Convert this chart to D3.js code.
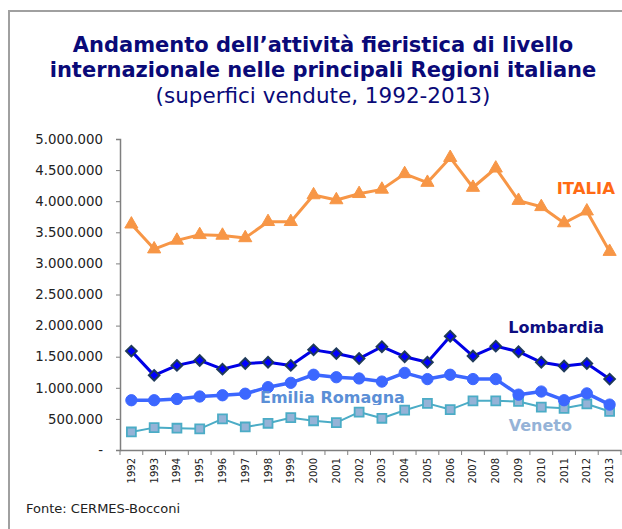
<!DOCTYPE html>
<html>
<head>
<meta charset="utf-8">
<script src="https://cdn.jsdelivr.net/npm/d3@7"></script>
<style>
    body { margin: 0; background: #fff; }
    svg { display: block; font-family: "DejaVu Sans", Verdana, sans-serif; }
</style>
</head>
<body>
<svg id="mainFrame"></svg>
<script>
// Data
const years = ['1992', '1993', '1994', '1995', '1996', '1997', '1998', '1999', '2000', '2001', '2002',
    '2003', '2004', '2005', '2006', '2007', '2008', '2009', '2010', '2011', '2012', '2013'];

const italia = [3630000, 3230000, 3370000, 3460000, 3450000, 3410000, 3670000, 3670000, 4100000, 4020000, 4120000,
    4190000, 4440000, 4300000, 4700000, 4220000, 4530000, 4010000, 3910000, 3650000, 3840000, 3190000];

const lombardia = [1590000, 1200000, 1360000, 1440000, 1300000, 1390000, 1410000, 1360000, 1610000, 1550000, 1470000,
    1660000, 1500000, 1410000, 1830000, 1510000, 1670000, 1580000, 1410000, 1350000, 1390000, 1140000];

const emilia = [800000, 800000, 820000, 860000, 880000, 905000, 1010000, 1080000, 1210000, 1170000, 1150000,
    1100000, 1240000, 1140000, 1210000, 1140000, 1140000, 890000, 940000, 800000, 910000, 730000];

const veneto = [290000, 360000, 350000, 340000, 500000, 370000, 430000, 520000, 470000, 440000, 610000,
    510000, 640000, 750000, 650000, 790000, 790000, 780000, 690000, 670000, 740000, 620000];

const yTicks = [0, 500000, 1000000, 1500000, 2000000, 2500000, 3000000, 3500000, 4000000, 4500000, 5000000];

const titleLines = ['Andamento dell\u2019attività fieristica di livello',
    'internazionale nelle principali Regioni italiane'];
const subtitle = '(superfici vendute, 1992-2013)';
const source = 'Fonte: CERMES-Bocconi';

const width = 622, height = 529;

const svg = d3.select('#mainFrame')
    .attr('width', width)
    .attr('height', height);

// Plot area in page coordinates
const plot = {left: 120, right: 621, top: 139, bottom: 450};

// Grey frame around the chart, open at right and bottom (runs off the picture)
svg.append('rect')
    .attr('x', 9).attr('y', 11)
    .attr('width', 640).attr('height', 540)
    .attr('fill', 'none')
    .attr('stroke', '#a0a0a0')
    .attr('stroke-width', 2);

// Titles
const titleGroup = svg.append('g').attr('text-anchor', 'middle').attr('fill', '#0a0a78');
titleGroup.selectAll('text.title').data(titleLines)
    .join('text')
    .attr('class', 'title')
    .attr('x', 323)
    .attr('y', (d, i) => 52 + i * 25)
    .attr('font-size', 21)
    .attr('font-weight', 'bold')
    .text(d => d);

titleGroup.append('text')
    .attr('x', 323)
    .attr('y', 103)
    .attr('font-size', 21.5)
    .text(subtitle);

/**
 * Scales
 */
const x = d3.scaleBand()
    .domain(years)
    .range([plot.left, plot.right])
    .padding(0);

const xc = d => x(d) + x.bandwidth() / 2;

const y = d3.scaleLinear()
    .domain([0, 5000000])
    .range([plot.bottom, plot.top]);

const fmt = d => d === 0 ? '-' : d3.format(',')(d).replace(/,/g, '.');

/**
 * Axes
 */
const yAxis = svg.append('g')
    .attr('transform', `translate(${plot.left},0)`)
    .call(d3.axisLeft(y).tickValues(yTicks).tickFormat(fmt).tickSize(4).tickPadding(13));
yAxis.select('.domain').attr('stroke', '#7f7f7f').attr('stroke-width', 1.5);
yAxis.selectAll('.tick line').attr('stroke', '#7f7f7f');
yAxis.selectAll('.tick text')
    .attr('font-family', '"DejaVu Sans", Verdana, sans-serif')
    .attr('font-size', 13.3)
    .attr('fill', '#222');

const xAxis = svg.append('g')
    .attr('transform', `translate(0,${plot.bottom})`)
    .call(d3.axisBottom(x).tickSize(0).tickPadding(0));
xAxis.select('.domain').attr('stroke', '#7f7f7f').attr('stroke-width', 1.5);
xAxis.selectAll('.tick text')
    .attr('font-family', '"DejaVu Sans", Verdana, sans-serif')
    .attr('font-size', 10)
    .attr('fill', '#222')
    .attr('text-anchor', 'end')
    .attr('transform', 'rotate(-90)')
    .attr('x', -8)
    .attr('y', 0)
    .attr('dy', '0.35em');

// tick marks sit on the band boundaries
const edges = years.map(d => x(d)).concat([x.range()[1]]);
xAxis.selectAll('line.edge').data(edges)
    .join('line')
    .attr('class', 'edge')
    .attr('x1', d => d).attr('x2', d => d)
    .attr('y1', 0).attr('y2', 5)
    .attr('stroke', '#7f7f7f');

/**
 * Series
 */
const series = [
    {name: 'Veneto', values: veneto, line: '#4bacc6', width: 2, symbol: d3.symbolSquare, size: 80, rot: 0, fill: '#95b3d7', stroke: '#4bacc6', sw: 1.8},
    {name: 'Emilia Romagna', values: emilia, line: '#3c67ff', width: 3.5, symbol: d3.symbolCircle, size: 100, rot: 0, fill: '#3c67ff', stroke: '#3c67ff', sw: 1},
    {name: 'Lombardia', values: lombardia, line: '#0000e6', width: 3, symbol: d3.symbolSquare, size: 56, rot: 45, fill: '#0000ff', stroke: '#1f3a5a', sw: 2},
    {name: 'ITALIA', values: italia, line: '#f79646', width: 3, symbol: d3.symbolTriangle, size: 75, rot: 0, fill: '#f79646', stroke: '#f79646', sw: 1}
];

const line = d3.line()
    .x((d, i) => xc(years[i]))
    .y(d => y(d));

const seriesGroup = svg.append('g').attr('id', 'series');

series.forEach(s => {
    const g = seriesGroup.append('g');
    g.append('path')
        .attr('d', line(s.values))
        .attr('fill', 'none')
        .attr('stroke', s.line)
        .attr('stroke-width', s.width)
        .attr('stroke-linejoin', 'round');

    g.selectAll('path.marker').data(s.values)
        .join('path')
        .attr('class', 'marker')
        .attr('transform', (d, i) => `translate(${xc(years[i])},${y(d)}) rotate(${s.rot})`)
        .attr('d', d3.symbol().type(s.symbol).size(s.size))
        .attr('fill', s.fill)
        .attr('stroke', s.stroke)
        .attr('stroke-width', s.sw);
});

/**
 * Series labels
 */
svg.append('defs').append('clipPath')
    .attr('id', 'emiliaClip')
    .append('rect')
    .attr('x', 0).attr('y', 0)
    .attr('width', width).attr('height', 405);

const labels = [
    {text: 'ITALIA', x: 615, y: 194, color: '#ff6a13', size: 16.5, anchor: 'end'},
    {text: 'Lombardia', x: 604, y: 333, color: '#0d0d80', size: 16, anchor: 'end'},
    {text: 'Emilia Romagna', x: 260, y: 403, color: '#5b8fd6', size: 16, anchor: 'start', clip: true},
    {text: 'Veneto', x: 572, y: 431, color: '#95b3d7', size: 16, anchor: 'end'}
];

svg.append('g').selectAll('text').data(labels)
    .join('text')
    .attr('x', d => d.x)
    .attr('y', d => d.y)
    .attr('fill', d => d.color)
    .attr('font-size', d => d.size)
    .attr('font-weight', 'bold')
    .attr('text-anchor', d => d.anchor)
    .attr('clip-path', d => d.clip ? 'url(#emiliaClip)' : null)
    .text(d => d.text);

// Source note
svg.append('text')
    .attr('x', 26)
    .attr('y', 513)
    .attr('font-size', 13)
    .attr('fill', '#222')
    .text(source);
</script>
</body>
</html>
